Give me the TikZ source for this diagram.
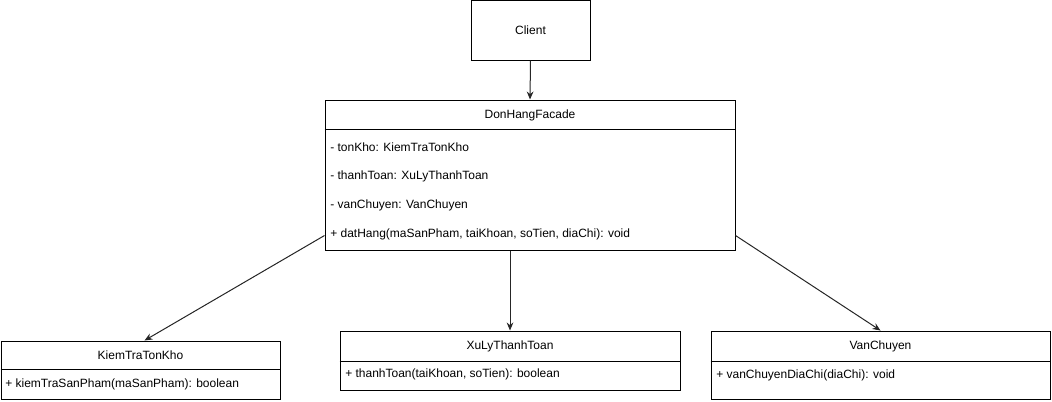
\documentclass[tikz,border=0pt]{standalone}
\usepackage{fontspec}
\setmainfont{Liberation Sans}
\usetikzlibrary{arrows.meta,calc}
\tikzset{
  box/.style={draw=black, line width=0.75pt, fill=white, inner sep=0pt},
  txt/.style={inner sep=0pt, font=\fontsize{9}{11}\selectfont, text=black},
  ltxt/.style={txt, anchor=west},
  conn/.style={draw=black!85, line width=0.75pt, -{Stealth[length=6pt,width=5pt]}},
  sep/.style={draw=black, line width=0.75pt}
}
\begin{document}
\begin{tikzpicture}[x=0.75pt,y=-0.75pt]
\useasboundingbox (0,0) rectangle (1052,401);
% Client
\node[box, minimum width=89.25pt, minimum height=44.6pt] (client) at (530.5,30.3) {};
\node[txt] (clientT) at (530.5,30) {Client};
% Facade
\node[box, minimum width=307.5pt, minimum height=112.5pt] (facade) at (530,175) {};
\draw[sep] (facade.west |- 0,129) -- (facade.east |- 0,129);
\node[txt] (facadeT) at (530,115) {DonHangFacade};
\node[ltxt] (fa1) at (330,147) {- tonKho: KiemTraTonKho};
\node[ltxt] (fa2) at (330,176) {- thanhToan: XuLyThanhToan};
\node[ltxt] (fa3) at (330,205) {- vanChuyen: VanChuyen};
\node[ltxt] (fa4) at (330,234) {+ datHang(maSanPham, taiKhoan, soTien, diaChi): void};
% KiemTraTonKho
\node[box, minimum width=209.25pt, minimum height=43.5pt] (kiem) at (140.5,370) {};
\draw[sep] (kiem.west |- 0,369) -- (kiem.east |- 0,369);
\node[txt] (kiemT) at (140.5,355) {KiemTraTonKho};
\node[ltxt] (kiem1) at (5,384) {+ kiemTraSanPham(maSanPham): boolean};
% XuLyThanhToan
\node[box, minimum width=255pt, minimum height=44.25pt] (xu) at (510,360.5) {};
\draw[sep] (xu.west |- 0,361) -- (xu.east |- 0,361);
\node[txt] (xuT) at (510,346) {XuLyThanhToan};
\node[ltxt] (xu1) at (345,374) {+ thanhToan(taiKhoan, soTien): boolean};
% VanChuyen
\node[box, minimum width=254.25pt, minimum height=51pt] (van) at (880.5,365) {};
\draw[sep] (van.west |- 0,361) -- (van.east |- 0,361);
\node[txt] (vanT) at (880.5,346) {VanChuyen};
\node[ltxt] (van1) at (716,375) {+ vanChuyenDiaChi(diaChi): void};
% connectors
\draw[conn] (client.south) -- (facade.north);
\draw[conn] ($(facade.south west)+(0,-15)$) -- ($(kiem.north)+(4,0)$);
\draw[conn] ($(facade.south)+(-20,0)$) -- (xu.north);
\draw[conn] ($(facade.south east)+(0,-15)$) -- (van.north);
\end{tikzpicture}
\end{document}
